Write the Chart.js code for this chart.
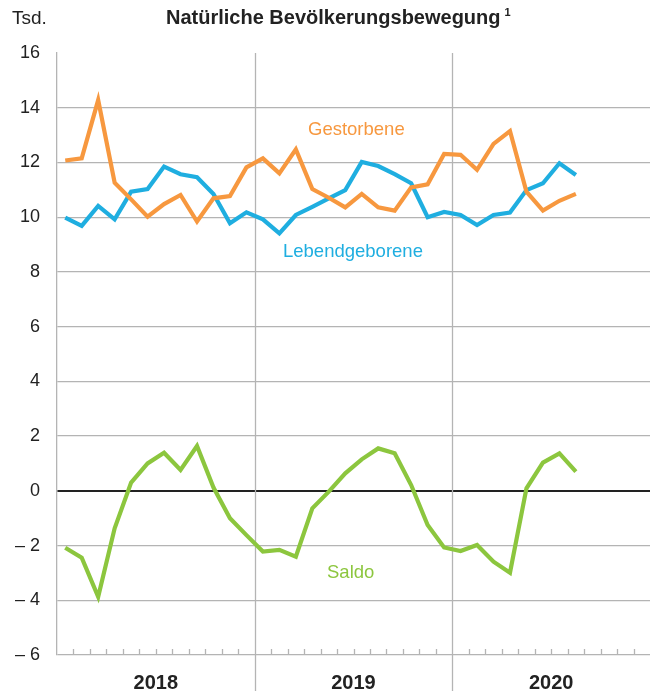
<!DOCTYPE html>
<html>
<head>
<meta charset="utf-8">
<script src="https://cdn.jsdelivr.net/npm/chart.js@4.4.1/dist/chart.umd.min.js"></script>
<style>
  body { margin: 0; background: #fff; font-family: 'Liberation Sans', Arial, sans-serif; }
  #wrap { position: relative; width: 658px; height: 695px; }
  .txt { position: absolute; white-space: nowrap; line-height: 1; }
</style>
</head>
<body>
<div id="wrap">
  <canvas id="chart"></canvas>
  <div class="txt" style="left:12px; top:8px; font-size:19px; color:#222;">Tsd.</div>
  <div class="txt" style="left:166px; top:7px; font-size:20px; font-weight:bold; color:#222;">Natürliche Bevölkerungsbewegung<span style="font-size:11px; position:relative; top:-8px; margin-left:4px;">1</span></div>
  <div class="txt" style="left:308px; top:120px; font-size:18.5px; color:#F7983F;">Gestorbene</div>
  <div class="txt" style="left:283px; top:242px; font-size:18.5px; color:#1FAEE0;">Lebendgeborene</div>
  <div class="txt" style="left:327px; top:563px; font-size:18.5px; color:#8CC63E;">Saldo</div>
</div>
<script>
// monthly values, Jan 2018 - Aug 2020, in thousands
const months = [];
for (const y of [2018, 2019, 2020]) {
  for (let m = 1; m <= 12; m++) months.push(m + '/' + y);
}
const yearLabels = { 5: '2018', 17: '2019', 29: '2020' };

const gestorbene = [12.07, 12.15, 14.28, 11.26, 10.65, 10.02, 10.48, 10.81, 9.84, 10.69, 10.77, 11.82,
  12.15, 11.6, 12.48, 11.03, 10.71, 10.36, 10.85, 10.36, 10.24, 11.09, 11.2, 12.31,
  12.28, 11.73, 12.68, 13.15, 10.93, 10.24, 10.6, 10.85];
const lebendgeborene = [9.98, 9.68, 10.41, 9.92, 10.93, 11.03, 11.85, 11.57, 11.46, 10.85, 9.78, 10.18,
  9.92, 9.41, 10.08, 10.38, 10.69, 10.99, 12.02, 11.87, 11.57, 11.24, 10.0, 10.19,
  10.08, 9.71, 10.08, 10.17, 10.99, 11.24, 11.97, 11.54];
const saldo = [-2.08, -2.44, -3.87, -1.37, 0.30, 1.0, 1.39, 0.76, 1.64, 0.12, -1.0, -1.62,
  -2.22, -2.16, -2.41, -0.64, -0.03, 0.64, 1.15, 1.55, 1.37, 0.21, -1.25, -2.07,
  -2.2, -1.98, -2.59, -2.99, 0.09, 1.03, 1.37, 0.70];

const GRID = '#b4b4b4';

// year separators (reaching below the axis) and small month ticks
const yearLines = {
  id: 'yearLines',
  beforeDatasetsDraw(chart) {
    const { ctx, chartArea: a } = chart;
    const step = (a.right - a.left) / months.length;
    ctx.save();
    ctx.strokeStyle = GRID;
    ctx.lineWidth = 1.3;
    for (let i = 1; i < months.length; i++) {
      const px = Math.round(a.left + i * step) + 0.5;
      ctx.beginPath();
      if (i % 12 === 0) {
        ctx.moveTo(px, a.top);
        ctx.lineTo(px, chart.height - 4);
      } else {
        ctx.moveTo(px, a.bottom);
        ctx.lineTo(px, a.bottom - 6);
      }
      ctx.stroke();
    }
    ctx.restore();
  }
};

new Chart(document.getElementById('chart'), {
  type: 'line',
  data: {
    labels: months,
    datasets: [
      { label: 'Gestorbene', data: gestorbene, borderColor: '#F7983F' },
      { label: 'Lebendgeborene', data: lebendgeborene, borderColor: '#1FAEE0' },
      { label: 'Saldo', data: saldo, borderColor: '#8CC63E' }
    ]
  },
  options: {
    responsive: true,
    maintainAspectRatio: false,
    animation: false,
    layout: { padding: { top: 53, right: 8, left: 0, bottom: 0 } },
    elements: {
      line: { borderWidth: 4.2, tension: 0, fill: false },
      point: { radius: 0 }
    },
    plugins: { legend: { display: false }, tooltip: { enabled: false } },
    scales: {
      x: {
        offset: true,
        grid: { display: false },
        border: { display: false },
        afterFit: (s) => { s.height = 40; },
        ticks: {
          autoSkip: false,
          maxRotation: 0,
          padding: 8,
          labelOffset: 8.2,
          color: '#222',
          font: { family: 'Liberation Sans', size: 20, weight: 'bold' },
          callback: (v, i) => yearLabels[i] || ''
        }
      },
      y: {
        min: -6,
        max: 16,
        afterFit: (s) => { s.width = 57; },
        border: { display: true, color: GRID, width: 1.3 },
        grid: {
          drawTicks: false,
          color: (c) => c.tick.value === 0 ? '#222' : (c.tick.value === 16 ? 'rgba(0,0,0,0)' : GRID),
          lineWidth: (c) => c.tick.value === 0 ? 2 : 1.3
        },
        ticks: {
          stepSize: 2,
          padding: 17,
          color: '#222',
          font: { family: 'Liberation Sans', size: 18 },
          callback: (v) => v < 0 ? '\u2013 ' + Math.abs(v) : String(v)
        }
      }
    }
  },
  plugins: [yearLines]
});
</script>
</body>
</html>
